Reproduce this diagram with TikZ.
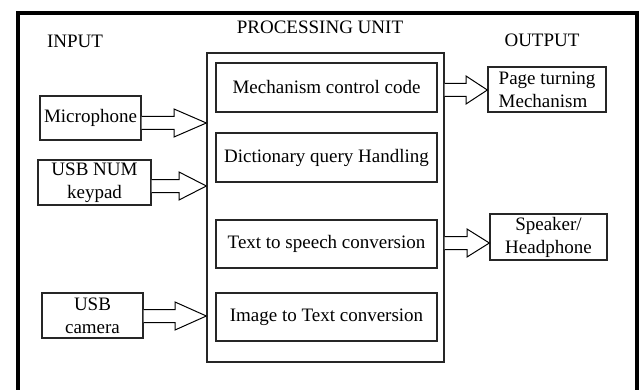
\documentclass[tikz,border=0pt]{standalone}
\usepackage{fontspec}
\setmainfont{Liberation Serif}
\usetikzlibrary{calc}

\begin{document}
\begin{tikzpicture}[
    x=1pt, y=-1pt,
    every node/.style={font=\fontsize{19}{23}\selectfont},
    box/.style={rectangle, draw=black!85, line width=1.3pt, align=center, inner sep=2pt},
    unitbox/.style={rectangle, draw=black!85, line width=1.3pt},
    title/.style={inner sep=0pt},
    hollow/.style={draw=black, line width=1pt, fill=white, line join=miter}
]
\useasboundingbox (0,0) rectangle (639,390);

% Outer frame (bottom edge runs off the page)
\draw[line width=4pt] (18,392) -- (18,13) -- (636.5,13) -- (636.5,392);

% Column titles
\node[title] (tin) at (75,41) {INPUT};
\node[title] (tproc) at (320,27) {PROCESSING UNIT};
\node[title] (tout) at (542,40) {OUTPUT};

% Input side
\node[box, minimum width=101pt, minimum height=44pt] (mic) at (90.5,118) {Microphone};
\node[box, minimum width=113pt, minimum height=45pt] (keypad) at (94.5,182.5) {USB NUM\\keypad};
\node[box, minimum width=101pt, minimum height=45pt] (camera) at (92.5,315.5) {USB\\camera};

% Processing unit
\node[unitbox, minimum width=237pt, minimum height=309pt] (unit) at (325.5,207.5) {};
\node[box, minimum width=221pt, minimum height=49pt] (code) at (326.5,87.5) {Mechanism control code};
\node[box, minimum width=221pt, minimum height=49pt] (dict) at (326.5,157.5) {Dictionary query Handling};
\node[box, minimum width=221pt, minimum height=48pt] (tts) at (326.5,244) {Text to speech conversion};
\node[box, minimum width=221pt, minimum height=48pt] (itt) at (326.5,317) {Image to Text conversion};

% Output side
\node[box, align=left, minimum width=118pt, minimum height=45pt] (page) at (547,89.5) {Page turning\\Mechanism};
\node[box, minimum width=117pt, minimum height=46pt] (speaker) at (548.5,237) {Speaker/\\Headphone};

% Hollow block arrows
\foreach \src/\dst/\ya in {mic/unit/123, keypad/unit/186, camera/unit/316, unit/page/90, unit/speaker/243} {
    \coordinate (s) at (\src.east |- 0,\ya);
    \coordinate (t) at (\dst.west |- 0,\ya);
    \coordinate (m) at ($(s)!0.5!(t)$);
    \draw[hollow] ($(s)+(0,-6.5)$) -- ($(m)+(0,-6.5)$) -- ($(m)+(0,-14)$) -- (t)
        -- ($(m)+(0,14)$) -- ($(m)+(0,6.5)$) -- ($(s)+(0,6.5)$);
}

\end{tikzpicture}
\end{document}
